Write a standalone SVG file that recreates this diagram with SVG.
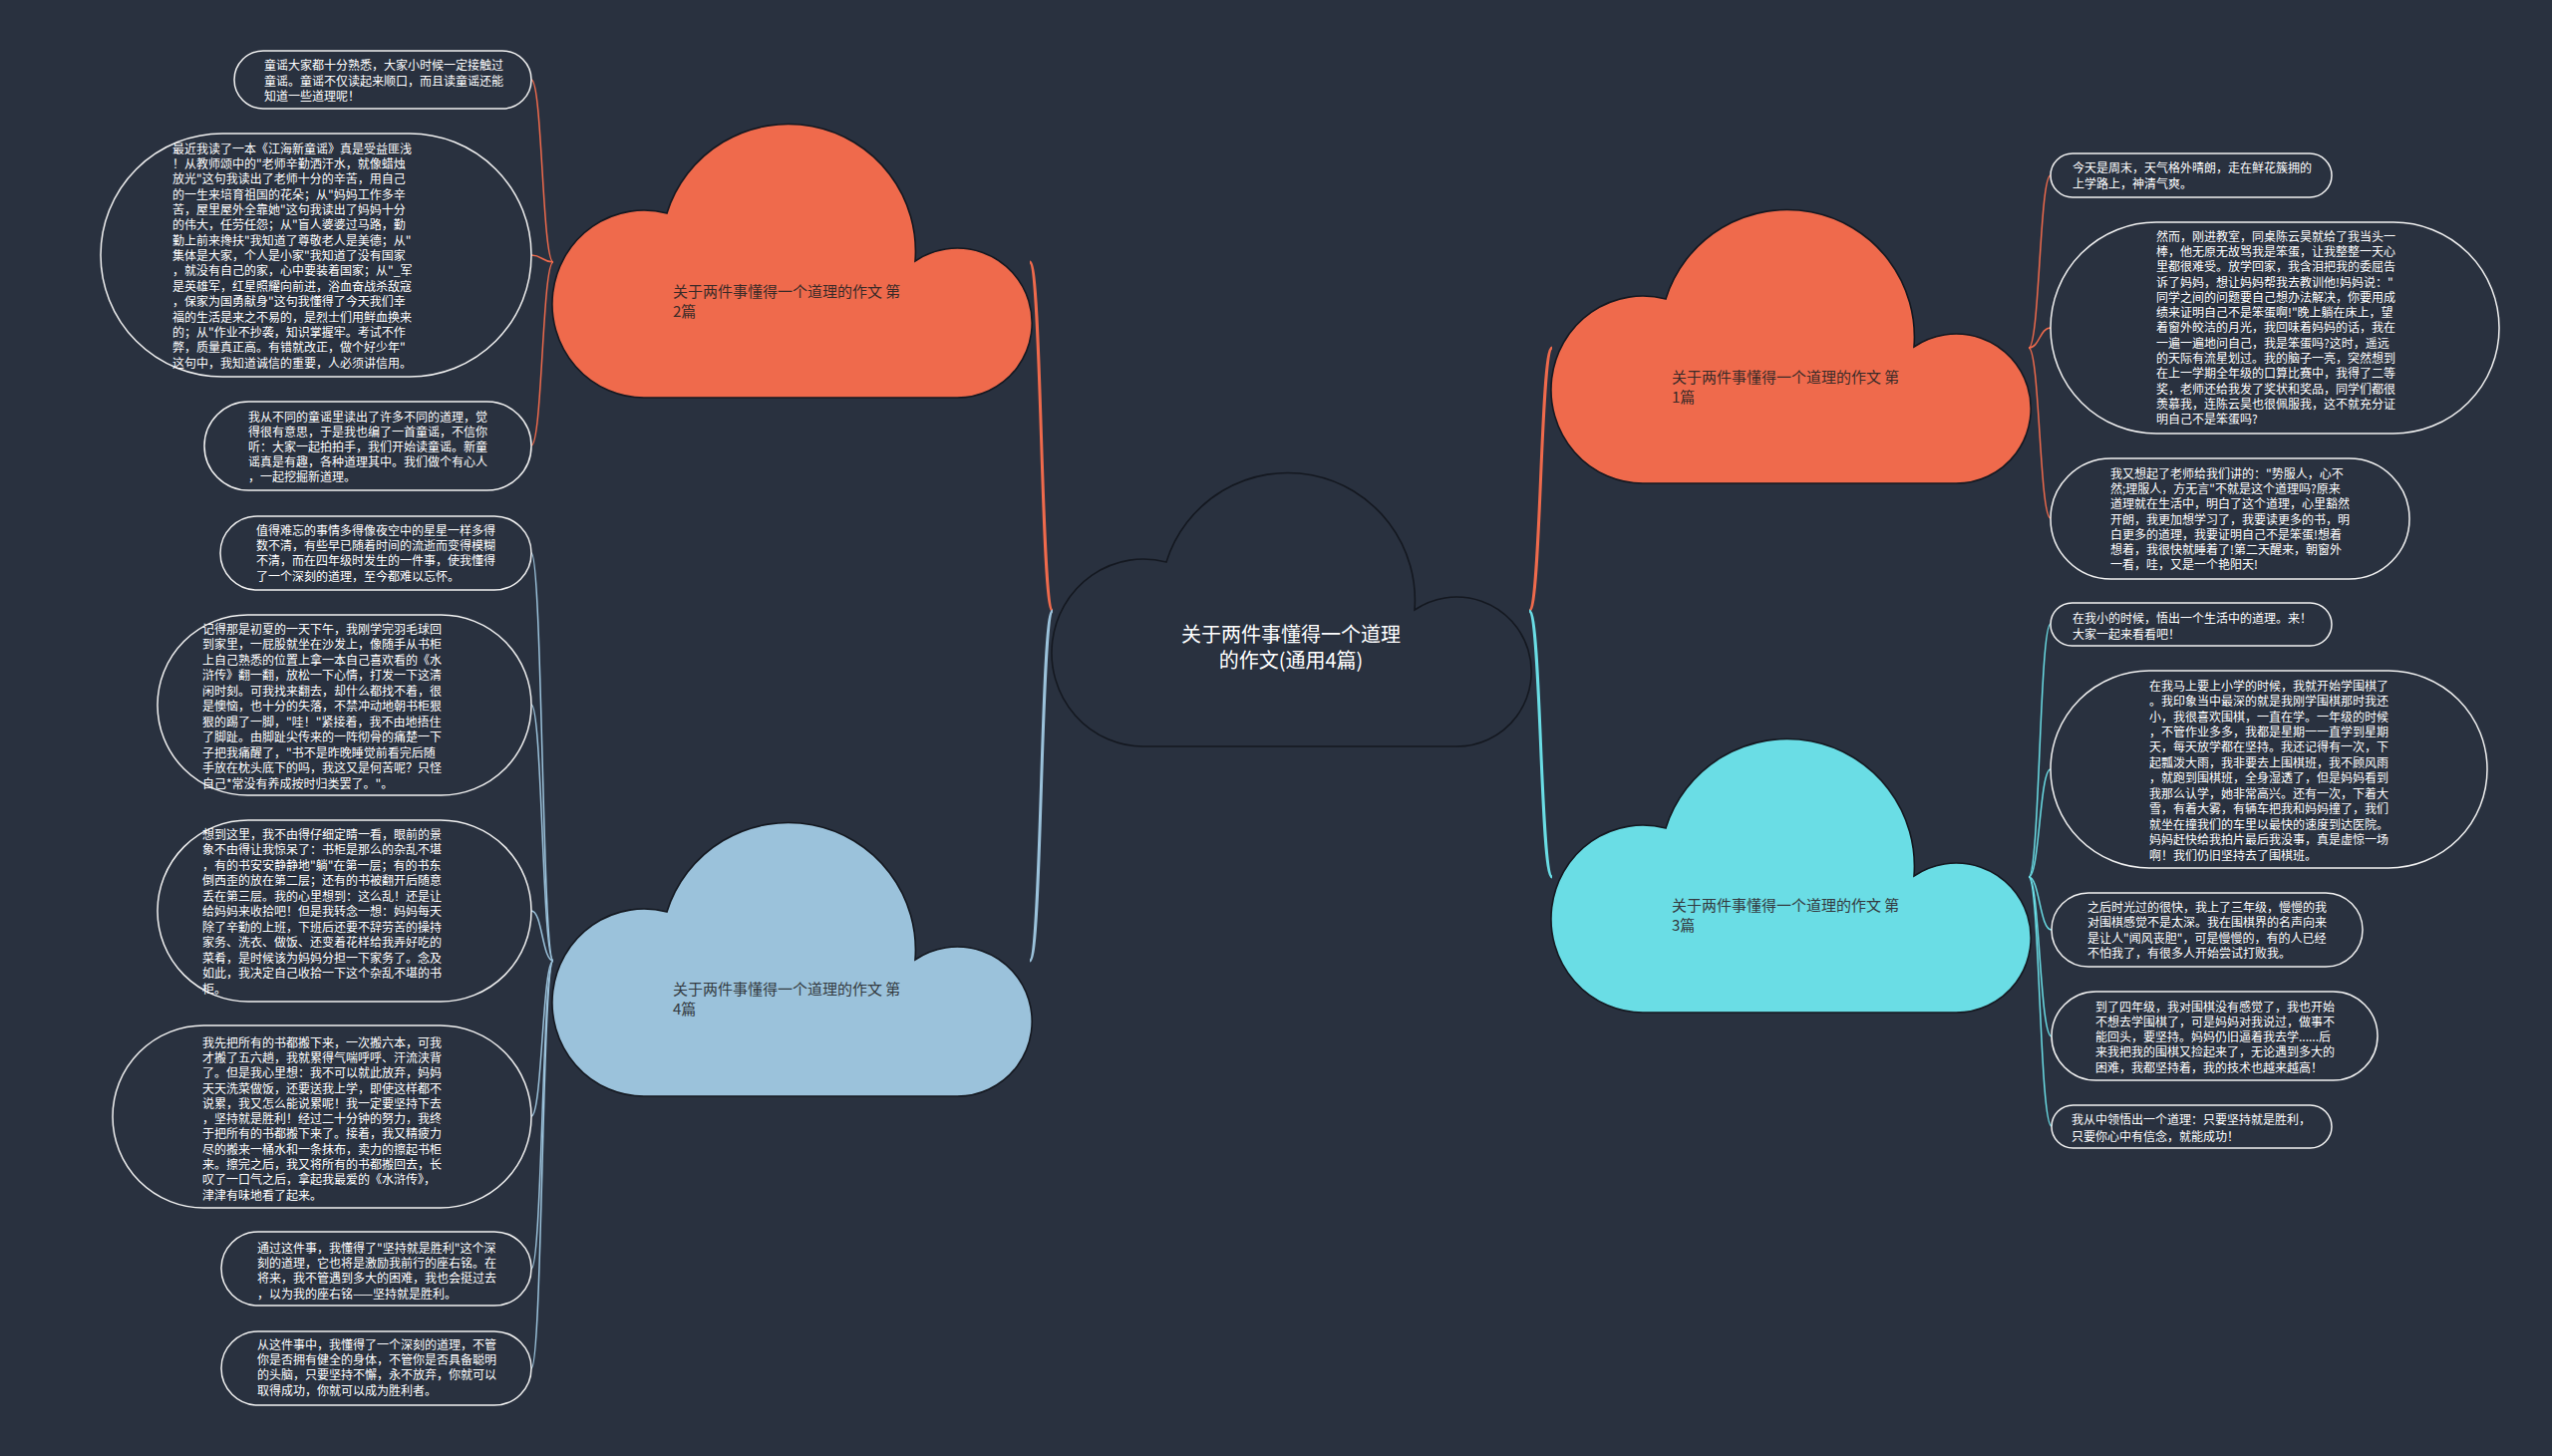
<svg xmlns="http://www.w3.org/2000/svg" width="2560" height="1461" viewBox="0 0 2560 1461">
<style>
.bg{fill:#29313f}
.cloud{stroke:#141820;stroke-width:1.6}
.c-orange{fill:#ef6a4c}
.c-cyan{fill:#6adde5}
.c-blue{fill:#9bc2db}
.c-dark{fill:#29313f}
.leafbox{fill:#29313f;stroke:#f2f2f2;stroke-width:1.5}
.leaf{font-family:"Noto Sans CJK SC","Noto Sans",sans-serif;font-size:12px;fill:#ffffff}
.ctext{font-family:"Noto Sans CJK SC","Noto Sans",sans-serif;font-size:15px;fill:#3a2a28}
.ctext2{font-family:"Noto Sans CJK SC","Noto Sans",sans-serif;font-size:15px;fill:#333a40}
.main{font-family:"Noto Sans CJK SC","Noto Sans",sans-serif;font-size:20px;fill:#ffffff;text-anchor:middle}
.ln{fill:none}
.thick{stroke-width:3}
.thin{stroke-width:1.5}
.s-orange{stroke:#ef6a4c}
.s-cyan{stroke:#6adde5}
.s-blue{stroke:#9bc2db}
</style>
<defs>
<path id="cloud" d="M92,272 A92 94 0 1 1 114,87 A127.6 127.6 0 0 1 363,135 A75 75 0 1 1 405,272 Z"/>
</defs>
<rect class="bg" x="0" y="0" width="2560" height="1461"/>

<g id="connectors">
<path class="ln thick s-orange" d="M1056,613 C1044,613 1045,263 1033,263"/>
<path class="ln thick s-blue" d="M1056,613 C1044,613 1045,964 1033,964"/>
<path class="ln thick s-orange" d="M1534,613 C1546,613 1545,349 1557,349"/>
<path class="ln thick s-cyan" d="M1534,613 C1546,613 1545,880 1557,880"/>

<path class="ln thin s-orange" d="M555,263 C544,263 544,80 533,80"/>
<path class="ln thin s-orange" d="M555,263 C544,263 544,256 533,256"/>
<path class="ln thin s-orange" d="M555,263 C544,263 544,447 533,447"/>

<path class="ln thin s-blue" d="M555,964 C544,964 544,555 533,555"/>
<path class="ln thin s-blue" d="M555,964 C544,964 544,707 533,707"/>
<path class="ln thin s-blue" d="M555,964 C544,964 544,914 533,914"/>
<path class="ln thin s-blue" d="M555,964 C544,964 544,1120 533,1120"/>
<path class="ln thin s-blue" d="M555,964 C544,964 544,1273 533,1273"/>
<path class="ln thin s-blue" d="M555,964 C544,964 544,1373 533,1373"/>

<path class="ln thin s-orange" d="M2035,349 C2046,349 2046,176 2057,176"/>
<path class="ln thin s-orange" d="M2035,349 C2046,349 2046,329 2057,329"/>
<path class="ln thin s-orange" d="M2035,349 C2046,349 2046,520 2057,520"/>

<path class="ln thin s-cyan" d="M2035,880 C2046,880 2046,626 2057,626"/>
<path class="ln thin s-cyan" d="M2035,880 C2046,880 2046,772 2057,772"/>
<path class="ln thin s-cyan" d="M2035,880 C2046,880 2046,933 2058,933"/>
<path class="ln thin s-cyan" d="M2035,880 C2046,880 2046,1040 2058,1040"/>
<path class="ln thin s-cyan" d="M2035,880 C2046,880 2046,1130 2058,1130"/>
</g>

<g id="node-center">
<use href="#cloud" class="cloud c-dark" transform="translate(1056,477)"/>
<text class="main" x="1295" y="644">关于两件事懂得一个道理<tspan x="1295" dy="26">的作文(通用4篇)</tspan></text>
</g>

<g id="node-c1">
<use href="#cloud" class="cloud c-orange" transform="translate(1557,213)"/>
<text class="ctext" x="1677" y="384">关于两件事懂得一个道理的作文 第<tspan x="1677" dy="20">1篇</tspan></text>
</g>
<g id="node-c2">
<use href="#cloud" class="cloud c-orange" transform="translate(555,127)"/>
<text class="ctext" x="675" y="298">关于两件事懂得一个道理的作文 第<tspan x="675" dy="20">2篇</tspan></text>
</g>
<g id="node-c3">
<use href="#cloud" class="cloud c-cyan" transform="translate(1557,744)"/>
<text class="ctext2" x="1677" y="914">关于两件事懂得一个道理的作文 第<tspan x="1677" dy="20">3篇</tspan></text>
</g>
<g id="node-c4">
<use href="#cloud" class="cloud c-blue" transform="translate(555,828)"/>
<text class="ctext2" x="675" y="998">关于两件事懂得一个道理的作文 第<tspan x="675" dy="20">4篇</tspan></text>
</g>

<g id="leaf-l1">
<rect class="leafbox" x="235" y="51" width="298" height="58" rx="29"/>
<text class="leaf" x="265" y="70">童谣大家都十分熟悉，大家小时候一定接触过<tspan x="265" dy="15.5">童谣。童谣不仅读起来顺口，而且读童谣还能</tspan><tspan x="265" dy="15.5">知道一些道理呢！</tspan></text>
</g>
<g id="leaf-l2">
<rect class="leafbox" x="101" y="134" width="432" height="244" rx="122"/>
<text class="leaf" x="173" y="153.6">最近我读了一本《江海新童谣》真是受益匪浅<tspan x="173" dy="15.36">！从教师颂中的"老师辛勤洒汗水，就像蜡烛</tspan><tspan x="173" dy="15.36">放光"这句我读出了老师十分的辛苦，用自己</tspan><tspan x="173" dy="15.36">的一生来培育祖国的花朵；从"妈妈工作多辛</tspan><tspan x="173" dy="15.36">苦，屋里屋外全靠她"这句我读出了妈妈十分</tspan><tspan x="173" dy="15.36">的伟大，任劳任怨；从"盲人婆婆过马路，勤</tspan><tspan x="173" dy="15.36">勤上前来搀扶"我知道了尊敬老人是美德；从"</tspan><tspan x="173" dy="15.36">集体是大家，个人是小家"我知道了没有国家</tspan><tspan x="173" dy="15.36">，就没有自己的家，心中要装着国家；从"_军</tspan><tspan x="173" dy="15.36">是英雄军，红星照耀向前进，浴血奋战杀敌寇</tspan><tspan x="173" dy="15.36">，保家为国勇献身"这句我懂得了今天我们幸</tspan><tspan x="173" dy="15.36">福的生活是来之不易的，是烈士们用鲜血换来</tspan><tspan x="173" dy="15.36">的；从"作业不抄袭，知识掌握牢。考试不作</tspan><tspan x="173" dy="15.36">弊，质量真正高。有错就改正，做个好少年"</tspan><tspan x="173" dy="15.36">这句中，我知道诚信的重要，人必须讲信用。</tspan></text>
</g>
<g id="leaf-l3">
<rect class="leafbox" x="205" y="403" width="328" height="89" rx="44.5"/>
<text class="leaf" x="249" y="423">我从不同的童谣里读出了许多不同的道理，觉<tspan x="249" dy="15">得很有意思，于是我也编了一首童谣，不信你</tspan><tspan x="249" dy="15">听：大家一起拍拍手，我们开始读童谣。新童</tspan><tspan x="249" dy="15">谣真是有趣，各种道理其中。我们做个有心人</tspan><tspan x="249" dy="15">，一起挖掘新道理。</tspan></text>
</g>
<g id="leaf-l4">
<rect class="leafbox" x="221" y="518" width="312" height="74" rx="37"/>
<text class="leaf" x="257" y="536.6">值得难忘的事情多得像夜空中的星星一样多得<tspan x="257" dy="15.3">数不清，有些早已随着时间的流逝而变得模糊</tspan><tspan x="257" dy="15.3">不清，而在四年级时发生的一件事，使我懂得</tspan><tspan x="257" dy="15.3">了一个深刻的道理，至今都难以忘怀。</tspan></text>
</g>
<g id="leaf-l5">
<rect class="leafbox" x="158" y="617" width="375" height="181" rx="90.5"/>
<text class="leaf" x="203" y="635.6">记得那是初夏的一天下午，我刚学完羽毛球回<tspan x="203" dy="15.5">到家里，一屁股就坐在沙发上，像随手从书柜</tspan><tspan x="203" dy="15.5">上自己熟悉的位置上拿一本自己喜欢看的《水</tspan><tspan x="203" dy="15.5">浒传》翻一翻，放松一下心情，打发一下这清</tspan><tspan x="203" dy="15.5">闲时刻。可我找来翻去，却什么都找不着，很</tspan><tspan x="203" dy="15.5">是懊恼，也十分的失落，不禁冲动地朝书柜狠</tspan><tspan x="203" dy="15.5">狠的踢了一脚，"哇！"紧接着，我不由地捂住</tspan><tspan x="203" dy="15.5">了脚趾。由脚趾尖传来的一阵彻骨的痛楚一下</tspan><tspan x="203" dy="15.5">子把我痛醒了，"书不是昨晚睡觉前看完后随</tspan><tspan x="203" dy="15.5">手放在枕头底下的吗，我这又是何苦呢？只怪</tspan><tspan x="203" dy="15.5">自己*常没有养成按时归类罢了。"。</tspan></text>
</g>
<g id="leaf-l6">
<rect class="leafbox" x="158" y="823" width="375" height="182" rx="91"/>
<text class="leaf" x="203" y="841.6">想到这里，我不由得仔细定睛一看，眼前的景<tspan x="203" dy="15.5">象不由得让我惊呆了：书柜是那么的杂乱不堪</tspan><tspan x="203" dy="15.5">，有的书安安静静地"躺"在第一层；有的书东</tspan><tspan x="203" dy="15.5">倒西歪的放在第二层；还有的书被翻开后随意</tspan><tspan x="203" dy="15.5">丢在第三层。我的心里想到：这么乱！还是让</tspan><tspan x="203" dy="15.5">给妈妈来收拾吧！但是我转念一想：妈妈每天</tspan><tspan x="203" dy="15.5">除了辛勤的上班，下班后还要不辞劳苦的操持</tspan><tspan x="203" dy="15.5">家务、洗衣、做饭、还变着花样给我弄好吃的</tspan><tspan x="203" dy="15.5">菜肴，是时候该为妈妈分担一下家务了。念及</tspan><tspan x="203" dy="15.5">如此，我决定自己收拾一下这个杂乱不堪的书</tspan><tspan x="203" dy="15.5">柜。</tspan></text>
</g>
<g id="leaf-l7">
<rect class="leafbox" x="113" y="1029" width="420" height="183" rx="91.5"/>
<text class="leaf" x="203" y="1050.6">我先把所有的书都搬下来，一次搬六本，可我<tspan x="203" dy="15.3">才搬了五六趟，我就累得气喘呼呼、汗流浃背</tspan><tspan x="203" dy="15.3">了。但是我心里想：我不可以就此放弃，妈妈</tspan><tspan x="203" dy="15.3">天天洗菜做饭，还要送我上学，即使这样都不</tspan><tspan x="203" dy="15.3">说累，我又怎么能说累呢！我一定要坚持下去</tspan><tspan x="203" dy="15.3">，坚持就是胜利！经过二十分钟的努力，我终</tspan><tspan x="203" dy="15.3">于把所有的书都搬下来了。接着，我又精疲力</tspan><tspan x="203" dy="15.3">尽的搬来一桶水和一条抹布，卖力的擦起书柜</tspan><tspan x="203" dy="15.3">来。擦完之后，我又将所有的书都搬回去，长</tspan><tspan x="203" dy="15.3">叹了一口气之后，拿起我最爱的《水浒传》，</tspan><tspan x="203" dy="15.3">津津有味地看了起来。</tspan></text>
</g>
<g id="leaf-l8">
<rect class="leafbox" x="222" y="1236" width="311" height="74" rx="37"/>
<text class="leaf" x="258" y="1256.6">通过这件事，我懂得了"坚持就是胜利"这个深<tspan x="258" dy="15.3">刻的道理，它也将是激励我前行的座右铭。在</tspan><tspan x="258" dy="15.3">将来，我不管遇到多大的困难，我也会挺过去</tspan><tspan x="258" dy="15.3">，以为我的座右铭——坚持就是胜利。</tspan></text>
</g>
<g id="leaf-l9">
<rect class="leafbox" x="222" y="1336" width="311" height="74" rx="37"/>
<text class="leaf" x="258" y="1353.6">从这件事中，我懂得了一个深刻的道理，不管<tspan x="258" dy="15.3">你是否拥有健全的身体，不管你是否具备聪明</tspan><tspan x="258" dy="15.3">的头脑，只要坚持不懈，永不放弃，你就可以</tspan><tspan x="258" dy="15.3">取得成功，你就可以成为胜利者。</tspan></text>
</g>

<g id="leaf-r1">
<rect class="leafbox" x="2057" y="154" width="282" height="44" rx="22"/>
<text class="leaf" x="2079" y="172.8">今天是周末，天气格外晴朗，走在鲜花簇拥的<tspan x="2079" dy="16">上学路上，神清气爽。</tspan></text>
</g>
<g id="leaf-r2">
<rect class="leafbox" x="2057" y="223" width="450" height="212" rx="106"/>
<text class="leaf" x="2163" y="241.6">然而，刚进教室，同桌陈云昊就给了我当头一<tspan x="2163" dy="15.3">棒，他无原无故骂我是笨蛋，让我整整一天心</tspan><tspan x="2163" dy="15.3">里都很难受。放学回家，我含泪把我的委屈告</tspan><tspan x="2163" dy="15.3">诉了妈妈，想让妈妈帮我去教训他!妈妈说："</tspan><tspan x="2163" dy="15.3">同学之间的问题要自己想办法解决，你要用成</tspan><tspan x="2163" dy="15.3">绩来证明自己不是笨蛋啊!"晚上躺在床上，望</tspan><tspan x="2163" dy="15.3">着窗外皎洁的月光，我回味着妈妈的话，我在</tspan><tspan x="2163" dy="15.3">一遍一遍地问自己，我是笨蛋吗?这时，遥远</tspan><tspan x="2163" dy="15.3">的天际有流星划过。我的脑子一亮，突然想到</tspan><tspan x="2163" dy="15.3">在上一学期全年级的口算比赛中，我得了二等</tspan><tspan x="2163" dy="15.3">奖，老师还给我发了奖状和奖品，同学们都很</tspan><tspan x="2163" dy="15.3">羡慕我，连陈云昊也很佩服我，这不就充分证</tspan><tspan x="2163" dy="15.3">明自己不是笨蛋吗?</tspan></text>
</g>
<g id="leaf-r3">
<rect class="leafbox" x="2057" y="460" width="360" height="121" rx="60.5"/>
<text class="leaf" x="2117" y="479.6">我又想起了老师给我们讲的："势服人，心不<tspan x="2117" dy="15.3">然;理服人，方无言"不就是这个道理吗?原来</tspan><tspan x="2117" dy="15.3">道理就在生活中，明白了这个道理，心里豁然</tspan><tspan x="2117" dy="15.3">开朗，我更加想学习了，我要读更多的书，明</tspan><tspan x="2117" dy="15.3">白更多的道理，我要证明自己不是笨蛋!想着</tspan><tspan x="2117" dy="15.3">想着，我很快就睡着了!第二天醒来，朝窗外</tspan><tspan x="2117" dy="15.3">一看，哇，又是一个艳阳天!</tspan></text>
</g>
<g id="leaf-r4">
<rect class="leafbox" x="2057" y="605" width="282" height="43" rx="21.5"/>
<text class="leaf" x="2079" y="624.6">在我小的时候，悟出一个生活中的道理。来！<tspan x="2079" dy="16">大家一起来看看吧！</tspan></text>
</g>
<g id="leaf-r5">
<rect class="leafbox" x="2057" y="673" width="438" height="198" rx="99"/>
<text class="leaf" x="2156" y="692.6">在我马上要上小学的时候，我就开始学围棋了<tspan x="2156" dy="15.45">。我印象当中最深的就是我刚学围棋那时我还</tspan><tspan x="2156" dy="15.45">小，我很喜欢围棋，一直在学。一年级的时候</tspan><tspan x="2156" dy="15.45">，不管作业多多，我都是星期一一直学到星期</tspan><tspan x="2156" dy="15.45">天，每天放学都在坚持。我还记得有一次，下</tspan><tspan x="2156" dy="15.45">起瓢泼大雨，我非要去上围棋班，我不顾风雨</tspan><tspan x="2156" dy="15.45">，就跑到围棋班，全身湿透了，但是妈妈看到</tspan><tspan x="2156" dy="15.45">我那么认学，她非常高兴。还有一次，下着大</tspan><tspan x="2156" dy="15.45">雪，有着大雾，有辆车把我和妈妈撞了，我们</tspan><tspan x="2156" dy="15.45">就坐在撞我们的车里以最快的速度到达医院。</tspan><tspan x="2156" dy="15.45">妈妈赶快给我拍片最后我没事，真是虚惊一场</tspan><tspan x="2156" dy="15.45">啊！我们仍旧坚持去了围棋班。</tspan></text>
</g>
<g id="leaf-r6">
<rect class="leafbox" x="2058" y="896" width="312" height="74" rx="37"/>
<text class="leaf" x="2094" y="914.6">之后时光过的很快，我上了三年级，慢慢的我<tspan x="2094" dy="15.6">对围棋感觉不是太深。我在围棋界的名声向来</tspan><tspan x="2094" dy="15.6">是让人"闻风丧胆"，可是慢慢的，有的人已经</tspan><tspan x="2094" dy="15.6">不怕我了，有很多人开始尝试打败我。</tspan></text>
</g>
<g id="leaf-r7">
<rect class="leafbox" x="2058" y="995" width="327" height="89" rx="44.5"/>
<text class="leaf" x="2102" y="1014.6">到了四年级，我对围棋没有感觉了，我也开始<tspan x="2102" dy="15.25">不想去学围棋了，可是妈妈对我说过，做事不</tspan><tspan x="2102" dy="15.25">能回头，要坚持。妈妈仍旧逼着我去学......后</tspan><tspan x="2102" dy="15.25">来我把我的围棋又捡起来了，无论遇到多大的</tspan><tspan x="2102" dy="15.25">困难，我都坚持着，我的技术也越来越高！</tspan></text>
</g>
<g id="leaf-r8">
<rect class="leafbox" x="2058" y="1109" width="281" height="43" rx="21.5"/>
<text class="leaf" x="2078" y="1127.6">我从中领悟出一个道理：只要坚持就是胜利，<tspan x="2078" dy="17">只要你心中有信念，就能成功！</tspan></text>
</g>
</svg>
